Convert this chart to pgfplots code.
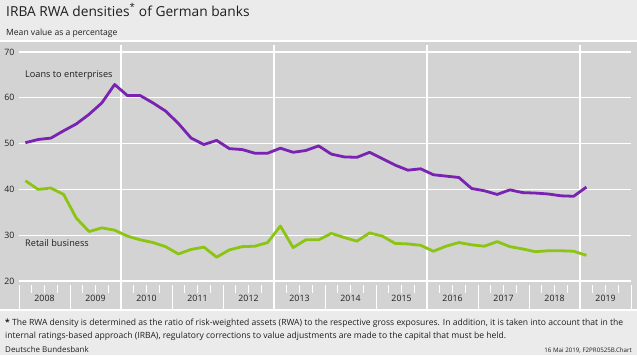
\documentclass[border=0pt]{standalone}
\usepackage{pgfplots}
\pgfplotsset{compat=1.18}
\usepackage{pgfplotstable}
\usepackage{fontspec}
\setmainfont{Open Sans}
\definecolor{pagebg}{RGB}{235,235,235}
\definecolor{plotbg}{RGB}{211,211,211}
\definecolor{purp}{RGB}{122,34,178}
\definecolor{lgreen}{RGB}{140,196,18}
\definecolor{txt}{RGB}{30,30,30}

\pgfplotstableread{
x val
2008.125 50.2
2008.375 50.9
2008.625 51.2
2008.875 52.8
2009.125 54.3
2009.375 56.4
2009.625 58.9
2009.875 62.9
2010.125 60.5
2010.375 60.5
2010.625 58.9
2010.875 57.1
2011.125 54.4
2011.375 51.2
2011.625 49.8
2011.875 50.7
2012.125 48.9
2012.375 48.7
2012.625 47.9
2012.875 47.9
2013.125 49.0
2013.375 48.1
2013.625 48.5
2013.875 49.5
2014.125 47.7
2014.375 47.1
2014.625 47.0
2014.875 48.1
2015.125 46.7
2015.375 45.3
2015.625 44.2
2015.875 44.5
2016.125 43.2
2016.375 42.9
2016.625 42.6
2016.875 40.2
2017.125 39.7
2017.375 38.9
2017.625 39.9
2017.875 39.3
2018.125 39.2
2018.375 39.0
2018.625 38.6
2018.875 38.5
2019.125 40.5
}\enterprises

\pgfplotstableread{
x val
2008.125 41.9
2008.375 40.0
2008.625 40.3
2008.875 38.9
2009.125 33.7
2009.375 30.8
2009.625 31.6
2009.875 31.1
2010.125 29.8
2010.375 29.0
2010.625 28.4
2010.875 27.5
2011.125 25.9
2011.375 26.9
2011.625 27.4
2011.875 25.2
2012.125 26.8
2012.375 27.5
2012.625 27.6
2012.875 28.4
2013.125 32.0
2013.375 27.3
2013.625 29.0
2013.875 29.0
2014.125 30.4
2014.375 29.5
2014.625 28.7
2014.875 30.5
2015.125 29.8
2015.375 28.2
2015.625 28.1
2015.875 27.8
2016.125 26.5
2016.375 27.6
2016.625 28.4
2016.875 27.9
2017.125 27.6
2017.375 28.6
2017.625 27.5
2017.875 27.0
2018.125 26.4
2018.375 26.6
2018.625 26.6
2018.875 26.5
2019.125 25.6
}\retail

\begin{document}
\begin{tikzpicture}[x=1bp,y=1bp]
\path[use as bounding box] (0,0) rectangle (637,355);
\fill[pagebg] (0,0) rectangle (637,355);
\fill[plotbg] (0,46) rectangle (637,313);
\draw[white,line width=1.6bp] (0,314) -- (637,314);
\draw[white,line width=1.2bp] (0,45) -- (637,45);
% vertical gridlines every three years
\foreach \xx in {121,274,427,580} \draw[white,line width=1.1bp] (\xx,310) -- (\xx,46);
% quarter ticks and year ticks
\foreach \k in {0,...,48} {
  \pgfmathsetmacro{\xq}{19+12.75*\k}
  \draw[white,line width=0.9bp] (\xq,70) -- (\xq,62);
}
\foreach \k in {0,...,12} {
  \pgfmathsetmacro{\xy}{19+51*\k}
  \draw[white,line width=0.9bp] (\xy,70) -- (\xy,46);
}
% title
\node[anchor=base west,inner sep=0,text=txt,font=\fontsize{13.8}{16}\selectfont] at (6,339) {IRBA RWA densities\textsuperscript{*} of German banks};
\node[anchor=base west,inner sep=0,text=txt,font=\fontsize{8.6}{10}\selectfont] at (6,320) {Mean value as a percentage};
\begin{axis}[
  at={(19bp,74bp)}, anchor=south west,
  scale only axis, width=612bp, height=229bp,
  xmin=2008, xmax=2020, ymin=20, ymax=70,
  clip=false,
  axis line style={draw=none},
  ytick={20,30,40,50,60,70},
  xtick={2008.5,2009.5,2010.5,2011.5,2012.5,2013.5,2014.5,2015.5,2016.5,2017.5,2018.5,2019.5},
  xticklabels={2008,2009,2010,2011,2012,2013,2014,2015,2016,2017,2018,2019},
  major tick length=0pt,
  ymajorgrids,
  grid style={white,line width=1.1bp},
  /pgf/number format/assume math mode=true,
  ticklabel style={font=\fontsize{8.8}{10}\selectfont,text=txt},
  xticklabel style={yshift=-11bp},
  yticklabel style={xshift=-1bp},
]
\addplot[purp,line width=2.8bp,line join=round] table[x=x,y=val] {\enterprises};
\addplot[lgreen,line width=2.8bp,line join=round] table[x=x,y=val] {\retail};
\end{axis}
\node[anchor=west,inner sep=0,text=txt,font=\fontsize{9.2}{10}\selectfont] at (25,280) {Loans to enterprises};
\node[anchor=west,inner sep=0,text=txt,font=\fontsize{9.2}{10}\selectfont] at (25,112) {Retail business};
% footnote
\node[anchor=base west,inner sep=0,text=txt,font=\fontsize{8.6}{10}\selectfont] at (5,30) {\textbf{*} The RWA density is determined as the ratio of risk-weighted assets (RWA) to the respective gross exposures. In addition, it is taken into account that in the};
\node[anchor=base west,inner sep=0,text=txt,font=\fontsize{8.6}{10}\selectfont] at (5,17) {internal ratings-based approach (IRBA), regulatory corrections to value adjustments are made to the capital that must be held.};
\node[anchor=base west,inner sep=0,text=txt,font=\fontsize{8}{10}\selectfont] at (5,3) {Deutsche Bundesbank};
\node[anchor=base east,inner sep=0,text=txt,font=\fontsize{6.2}{7}\selectfont] at (632,3) {16 Mai 2019, F2PR0525B.Chart};
\end{tikzpicture}
\end{document}
